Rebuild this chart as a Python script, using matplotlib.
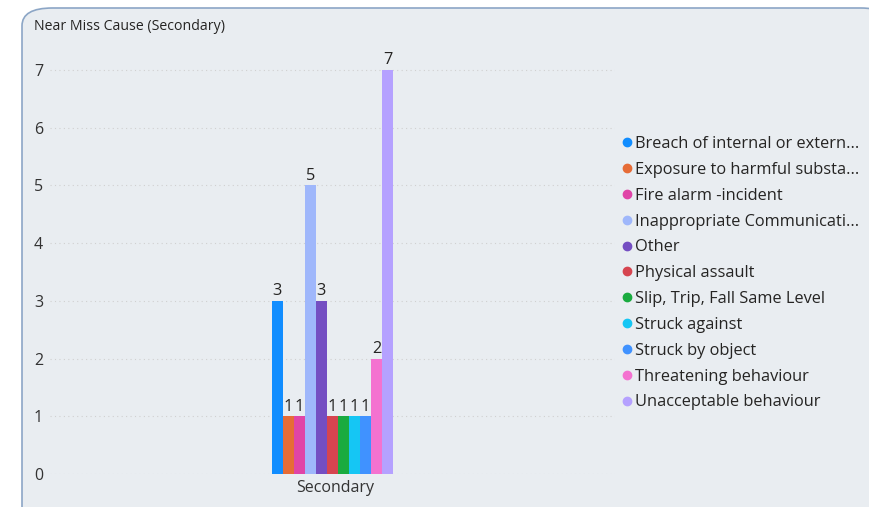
import matplotlib.pyplot as plt
from matplotlib.patches import FancyBboxPatch
from matplotlib.lines import Line2D

# Near miss causes, secondary
causes = ['Breach of internal or extern...', 'Exposure to harmful substa...',
          'Fire alarm -incident', 'Inappropriate Communicati...', 'Other',
          'Physical assault', 'Slip, Trip, Fall Same Level', 'Struck against',
          'Struck by object', 'Threatening behaviour', 'Unacceptable behaviour']
counts = [3, 1, 1, 5, 3, 1, 1, 1, 1, 2, 7]
colors = ['#118DFF', '#E66C37', '#E044A7', '#9FB7FB', '#744EC2', '#D64550',
          '#1AAB40', '#15C6F4', '#4092FF', '#F472D0', '#B5A1FF']
category = 'Secondary'

plt.rcParams['font.family'] = ['Open Sans', 'DejaVu Sans']

fig = plt.figure(figsize=(8.69, 5.07), dpi=100)
fig.patch.set_facecolor('white')

# card background
W, H = 869, 507
card = FancyBboxPatch((22 / W, -0.1), 1.0, (H - 8) / H + 0.1,
                      boxstyle='round,pad=0,rounding_size=0.035',
                      transform=fig.transFigure, facecolor='#E9EDF1',
                      edgecolor='#8CA6C6', linewidth=1.2, zorder=-10)
fig.patches.append(card)

fig.text(34 / W, 1 - 26 / H, 'Near Miss Cause (Secondary)', fontsize=10.2,
         color='#252423', va='center', ha='left')

ax = fig.add_axes([50 / W, 1 - 474 / H, (615 - 50) / W, (474 - 70) / H * 7.35 / 7])
ax.set_facecolor('none')
ax.set_zorder(1)

n = len(counts)
bw = 0.0195
start = -bw * n / 2 + bw / 2
for i, (c, v, col) in enumerate(zip(causes, counts, colors)):
    x = start + i * bw
    ax.bar(x, v, width=bw, color=col, zorder=3)
    ax.text(x, v + 0.03, str(v), ha='center', va='bottom', fontsize=11.8,
            color='#252423', zorder=4)

ax.set_xlim(-0.5, 0.5)
ax.set_ylim(0, 7.35)
ax.set_yticks(range(0, 8))
ax.set_xticks([0.005])
ax.set_xticklabels([category])
ax.tick_params(axis='both', length=0, labelsize=11.5, labelcolor='#333333')
ax.tick_params(axis='y', pad=5)
ax.tick_params(axis='x', pad=4)
for s in ax.spines.values():
    s.set_visible(False)
ax.grid(axis='y', linestyle=(0, (1, 3)), color='#D0D0D0', linewidth=0.8, zorder=0)

handles = [Line2D([0], [0], marker='o', linestyle='none', markersize=6,
                  markerfacecolor=col, markeredgecolor=col) for col in colors]
fig.legend(handles, causes, loc='upper left', bbox_to_anchor=(619 / W, 1 - 136 / H),
           frameon=False, fontsize=11.8, handletextpad=0.0, labelspacing=0.6,
           handlelength=1.0, labelcolor='#252423', borderaxespad=0, borderpad=0)

fig.savefig('out.png', dpi=100, facecolor='white')
